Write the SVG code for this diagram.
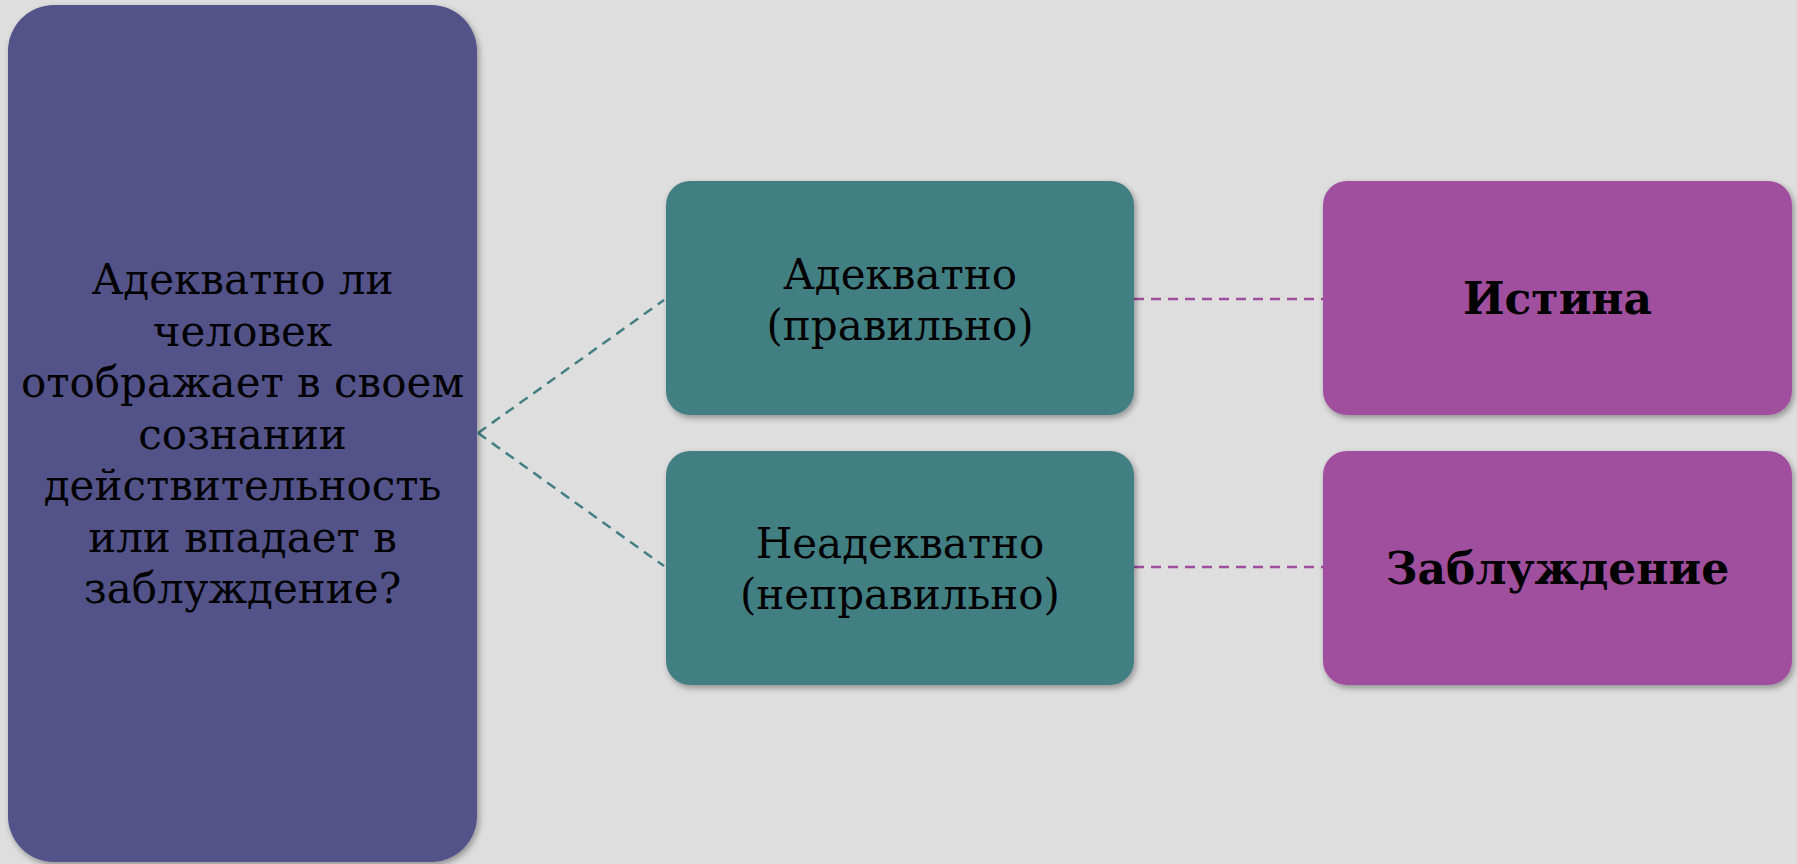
<svg xmlns="http://www.w3.org/2000/svg" width="1797" height="864" viewBox="0 0 1797 864">
<style>
.t{font-family:"DejaVu Serif","Liberation Serif",serif;font-size:42px;fill:#000;text-anchor:middle}
.b{font-weight:bold;font-size:44px}
.c1{stroke:#437f83;stroke-width:2.5;stroke-dasharray:10,7;fill:none}
.c2{stroke:#a04f9f;stroke-width:2.5;stroke-dasharray:10,7;fill:none}
</style>
<defs>
<filter id="sh" x="-10%" y="-10%" width="120%" height="120%">
<feDropShadow dx="2" dy="3" stdDeviation="3" flood-color="#000" flood-opacity="0.35"/>
</filter>
</defs>
<rect width="1797" height="864" fill="#dedede"/>
<g id="connectors">
<line class="c1" x1="478" y1="433" x2="664" y2="300"/>
<line class="c1" x1="478" y1="433" x2="664" y2="566"/>
<line class="c2" x1="1134" y1="299" x2="1323" y2="299"/>
<line class="c2" x1="1134" y1="567" x2="1323" y2="567"/>
</g>
<g id="question">
<rect x="8" y="5" width="469" height="857" rx="46" fill="#525289" filter="url(#sh)"/>
<text class="t" x="242.5" y="294">Адекватно ли</text>
<text class="t" x="242.5" y="345.5">человек</text>
<text class="t" x="242.5" y="397">отображает в своем</text>
<text class="t" x="242.5" y="448.5">сознании</text>
<text class="t" x="242.5" y="500">действительность</text>
<text class="t" x="242.5" y="551.5">или впадает в</text>
<text class="t" x="242.5" y="603">заблуждение?</text>
</g>
<g id="adequate">
<rect x="666" y="181" width="468" height="234" rx="24" fill="#437f83" filter="url(#sh)"/>
<text class="t" x="900" y="289">Адекватно</text>
<text class="t" x="900" y="340">(правильно)</text>
</g>
<g id="inadequate">
<rect x="666" y="451" width="468" height="234" rx="24" fill="#437f83" filter="url(#sh)"/>
<text class="t" x="900" y="558">Неадекватно</text>
<text class="t" x="900" y="609">(неправильно)</text>
</g>
<g id="truth">
<rect x="1323" y="181" width="469" height="234" rx="24" fill="#a04f9f" filter="url(#sh)"/>
<text class="t b" x="1557.5" y="314">Истина</text>
</g>
<g id="error">
<rect x="1323" y="451" width="469" height="234" rx="24" fill="#a04f9f" filter="url(#sh)"/>
<text class="t b" x="1557.5" y="584">Заблуждение</text>
</g>
</svg>
